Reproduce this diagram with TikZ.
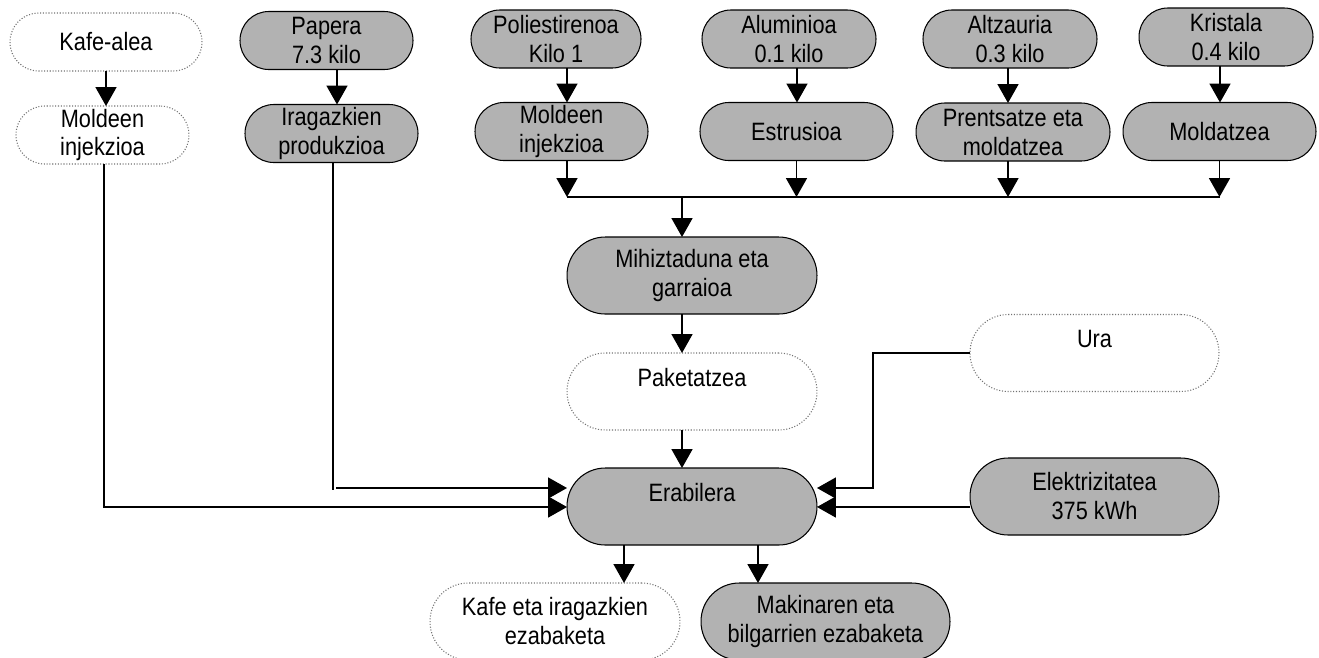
\documentclass[tikz,border=0pt]{standalone}
\usepackage{fontspec}
\setmainfont{Liberation Sans}[FakeStretch=0.865]
\usetikzlibrary{arrows.meta,calc}
\definecolor{gfill}{RGB}{178,178,178}
\begin{document}
\begin{tikzpicture}[x=0.02cm,y=-0.02cm,
  every node/.style={font=\fontsize{14.3}{16.5}\selectfont, align=center, inner sep=0pt, outer sep=0pt},
  gbox/.style={draw=black, line width=0.6pt, fill=gfill},
  wbox/.style={draw=black!55, densely dotted, line width=0.6pt, fill=white},
  sm/.style={minimum height=1.16cm, rounded corners=0.575cm},
  bg/.style={minimum height=1.54cm, rounded corners=0.765cm},
  ln/.style={line width=1pt},
  arr/.style={line width=1pt, -{Triangle[length=0.38cm,width=0.42cm]}}]
\useasboundingbox (0,0) rectangle (1319,657);
% top row
\node[wbox,sm,minimum width=3.84cm] (kafe) at (106,42) {Kafe-alea};
\node[gbox,sm,minimum width=3.46cm] (papera) at (326.5,40.5) {Papera\\7.3 kilo};
\node[gbox,sm,minimum width=3.40cm] (poli) at (556,39) {Poliestirenoa\\Kilo 1};
\node[gbox,sm,minimum width=3.48cm] (alum) at (789,39) {Aluminioa\\0.1 kilo};
\node[gbox,sm,minimum width=3.48cm] (altz) at (1010,39) {Altzauria\\0.3 kilo};
\node[gbox,sm,minimum width=3.48cm] (krist) at (1226,37) {Kristala\\0.4 kilo};
% second row
\node[wbox,sm,minimum width=3.46cm] (moldL) at (102.5,135) {Moldeen\\injekzioa};
\node[gbox,sm,minimum width=3.46cm] (iragaz) at (331.5,133.5) {Iragazkien\\produkzioa};
\node[gbox,sm,minimum width=3.46cm] (moldM) at (561.5,131.5) {Moldeen\\injekzioa};
\node[gbox,sm,minimum width=3.86cm] (estr) at (796.5,131.5) {Estrusioa};
\node[gbox,sm,minimum width=3.88cm] (prent) at (1013,132) {Prentsatze eta\\moldatzea};
\node[gbox,sm,minimum width=3.86cm] (moldat) at (1219.5,131.5) {Moldatzea};
% middle
\node[gbox,bg,minimum width=5.0cm] (mihiz) at (692,275.5) {Mihiztaduna eta\\garraioa};
\node[wbox,bg,minimum width=5.0cm] (paket) at (692,391.5) {Paketatzea\\\mbox{}};
\node[wbox,bg,minimum width=4.98cm] (ura) at (1094.5,353) {Ura\\\mbox{}};
\node[gbox,bg,minimum width=5.0cm] (erab) at (692,506.5) {Erabilera\\\mbox{}};
\node[gbox,bg,minimum width=4.98cm] (elek) at (1094.5,496.5) {Elektrizitatea\\375 kWh};
% bottom
\node[wbox,bg,minimum width=5.0cm] (kafeeta) at (555,621.5) {Kafe eta iragazkien\\ezabaketa};
\node[gbox,bg,minimum width=4.98cm] (makin) at (825.5,621.5) {Makinaren eta\\bilgarrien ezabaketa};
% top arrows
\draw[arr] (kafe.south) -- (kafe.south |- moldL.north);
\draw[arr] ([xshift=0.21cm]papera.south) -- ([xshift=0.21cm]papera.south |- iragaz.north);
\draw[arr] ([xshift=0.22cm]poli.south) -- ([xshift=0.22cm]poli.south |- moldM.north);
\draw[arr] ([xshift=0.16cm]alum.south) -- ([xshift=0.16cm]alum.south |- estr.north);
\draw[arr] ([xshift=-0.04cm]altz.south) -- ([xshift=-0.04cm]altz.south |- prent.north);
\draw[arr] ([xshift=-0.12cm]krist.south) -- ([xshift=-0.12cm]krist.south |- moldat.north);
% bus
\coordinate (busL) at (567,197);
\coordinate (busR) at (1220,197);
\draw[ln] (busL) -- (busR);
\draw[arr] ([xshift=0.11cm]moldM.south) -- ([xshift=0.11cm]moldM.south |- busL);
\draw[arr] (estr.south) -- (estr.south |- busL);
\draw[arr] ([xshift=-0.1cm]prent.south) -- ([xshift=-0.1cm]prent.south |- busL);
\draw[arr] (moldat.south) -- (moldat.south |- busL);
\draw[arr] ([xshift=-0.2cm]mihiz.north |- busL) -- ([xshift=-0.2cm]mihiz.north);
\draw[arr] ([xshift=-0.2cm]mihiz.south) -- ([xshift=-0.2cm]paket.north);
\draw[arr] ([xshift=-0.2cm]paket.south) -- ([xshift=-0.2cm]erab.north);
% left inputs
\draw[arr] ([xshift=0.03cm]moldL.south) |- ([yshift=-0.01cm]erab.west);
\coordinate (igEnd) at (333,490);
\coordinate (igStart) at (336,488);
\draw[ln] (iragaz.south -| igEnd) -- (igEnd);
\draw[arr] (igStart) -- ([yshift=0.37cm]erab.west);
% right inputs
\coordinate (uraBend) at (873,353);
\draw[arr] (ura.west) -- (uraBend) |- ([yshift=0.37cm]erab.east);
\draw[arr] ([yshift=-0.21cm]elek.west) -- ([yshift=-0.21cm]elek.west -| erab.east);
% outputs
\draw[arr] ([xshift=-1.36cm]erab.south) -- ([xshift=-1.36cm]erab.south |- kafeeta.north);
\draw[arr] ([xshift=1.32cm]erab.south) -- ([xshift=1.32cm]erab.south |- makin.north);
\end{tikzpicture}
\end{document}
